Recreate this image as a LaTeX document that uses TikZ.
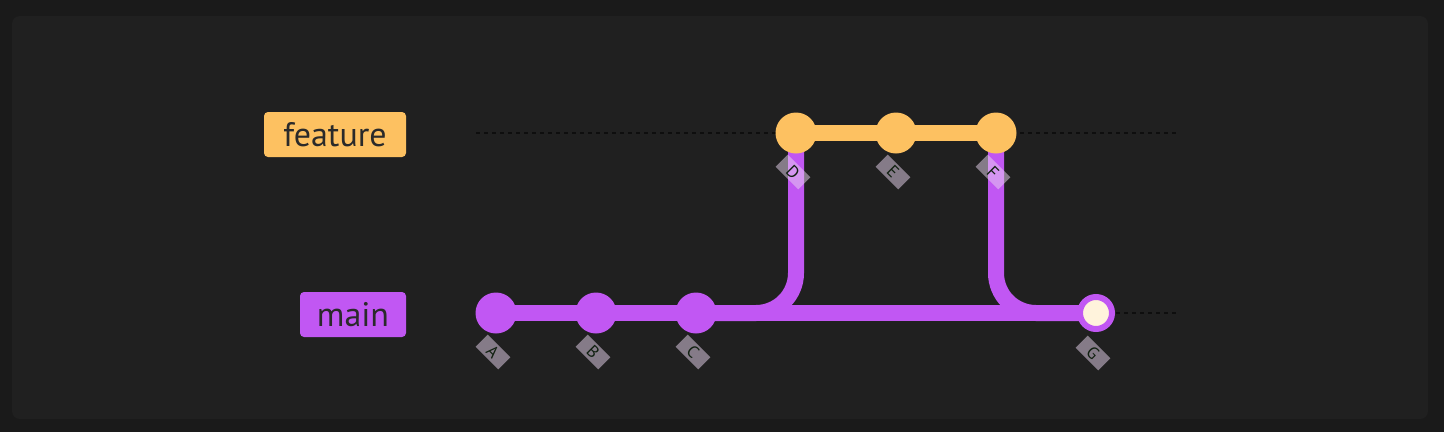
\documentclass[tikz,border=0pt]{standalone}
\usepackage{fontspec}
\setmainfont{PT Sans}
\newfontfamily\lblfont{PT Sans}
\pgfdeclarelayer{back}
\pgfdeclarelayer{lines}
\pgfsetlayers{back,lines,main}
\definecolor{outerbg}{HTML}{1A1A1A}
\definecolor{innerbg}{HTML}{202020}
\definecolor{mainc}{HTML}{C157F3}
\definecolor{featc}{HTML}{FDC161}
\definecolor{labtxt}{HTML}{2A2A2A}
\definecolor{clbg}{RGB}{234,214,240}
\definecolor{cltxt}{HTML}{102010}
\definecolor{hlfill}{HTML}{FFF3DC}
\definecolor{dashc}{HTML}{0E0E0E}
\tikzset{
  x=1pt, y=-1pt,
  commitm/.style={circle, fill=mainc, minimum size=41pt, inner sep=0pt},
  commitf/.style={circle, fill=featc, minimum size=41pt, inner sep=0pt},
  commith/.style={circle, fill=hlfill, draw=mainc, line width=6pt, minimum size=32pt, inner sep=0pt},
  branchm/.style={draw=mainc, line width=16pt, rounded corners=40pt},
  branchf/.style={draw=featc, line width=16pt},
  dashline/.style={draw=dashc, line width=1.6pt, dash pattern=on 4pt off 4pt},
  blabel/.style={rounded corners=4pt, minimum height=45pt, text=labtxt, font=\lblfont\fontsize{34}{36}\selectfont, inner sep=0pt},
  clabel/.style={fill=clbg, fill opacity=0.5, text opacity=1, text=cltxt, rotate=-45, minimum width=32pt, minimum height=17pt, inner sep=0pt, font=\lblfont\fontsize{17}{17}\selectfont},
}
\begin{document}
\begin{tikzpicture}
\useasboundingbox (0,0) rectangle (1444,432);
\begin{pgfonlayer}{back}
  \fill[outerbg] (0,0) rectangle (1444,432);
  \fill[innerbg, rounded corners=8pt] (12,16) rectangle (1428,419);
\end{pgfonlayer}
% commit positions
\coordinate (pA) at (496,313);
\coordinate (pB) at (596,313);
\coordinate (pC) at (696,313);
\coordinate (pD) at (796,133);
\coordinate (pE) at (896,133);
\coordinate (pF) at (996,133);
\coordinate (pG) at (1096,313);
\coordinate (fs) at (476,133);
\coordinate (fe) at (1176,133);
\coordinate (ms) at (476,313);
\coordinate (me) at (1176,313);
% branch labels
\node[blabel, fill=featc, minimum width=142pt] (lfeat) at (335,134.5) {feature};
\node[blabel, fill=mainc, minimum width=106pt] (lmain) at (353,314.5) {main};
% commits
\node[commitm] (A) at (pA) {};
\node[commitm] (B) at (pB) {};
\node[commitm] (C) at (pC) {};
\node[commitf] (D) at (pD) {};
\node[commitf] (E) at (pE) {};
\node[commitf] (F) at (pF) {};
\node[commith] (G) at (pG) {};
% lines
\begin{pgfonlayer}{lines}
  \draw[dashline] (fs) -- (fe);
  \draw[dashline] (ms) -- (me);
  \draw[branchm] (A.center) -- (B.center);
  \draw[branchm] (B.center) -- (C.center);
  \draw[branchm] (C.center) -- (G.center);
  \draw[branchm] (C.center) -| (D.center);
  \draw[branchm] (F.center) |- (G.center);
  \draw[branchf] (D.center) -- (E.center);
  \draw[branchf] (E.center) -- (F.center);
\end{pgfonlayer}
% commit labels
\node[clabel] (tA) at ([shift={(-3,39)}]pA) {A};
\node[clabel] (tB) at ([shift={(-3,39)}]pB) {B};
\node[clabel] (tC) at ([shift={(-3,39)}]pC) {C};
\node[clabel] (tD) at ([shift={(-3,39)}]pD) {D};
\node[clabel] (tE) at ([shift={(-3,39)}]pE) {E};
\node[clabel] (tF) at ([shift={(-3,39)}]pF) {F};
\node[clabel] (tG) at ([shift={(-3,40)}]pG) {G};
\end{tikzpicture}
\end{document}
